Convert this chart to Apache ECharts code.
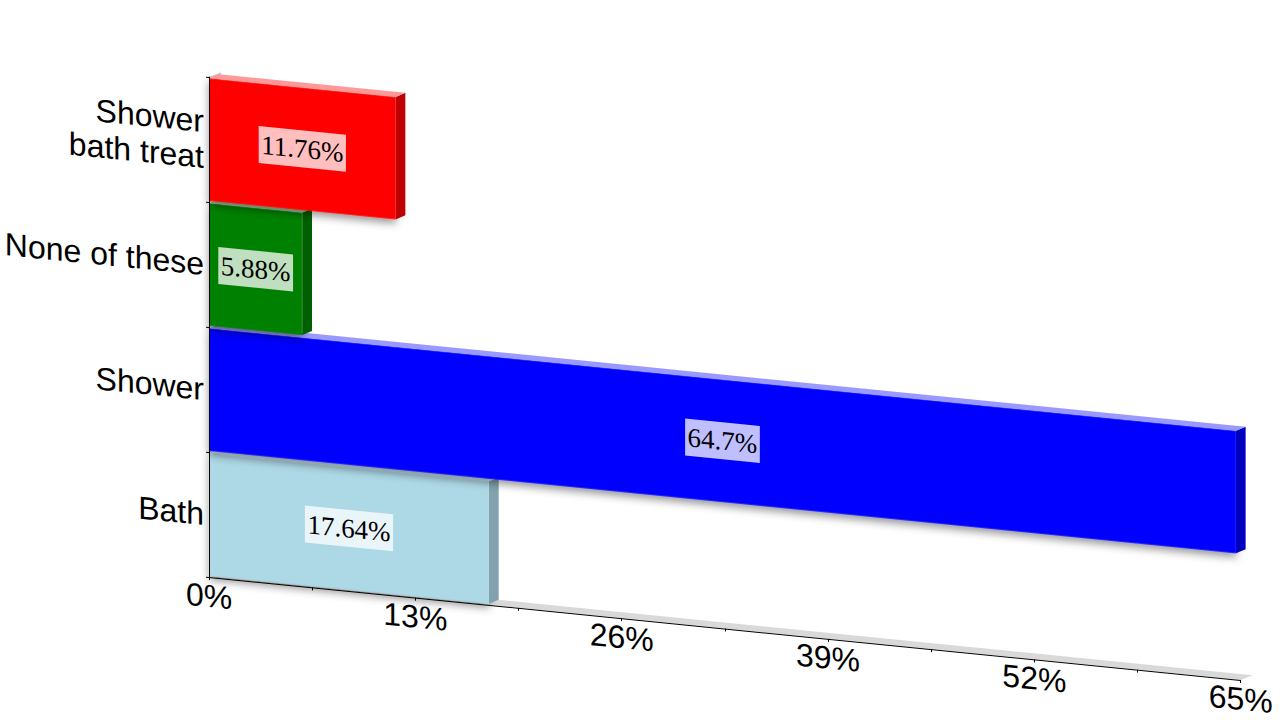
<!DOCTYPE html>
<html>
<head>
<meta charset="utf-8">
<style>
html,body{margin:0;padding:0;background:#fff;overflow:hidden;width:1280px;height:720px}
#c{position:absolute;left:0;top:0;width:1280px;height:720px;transform-origin:209px 577px;transform:matrix(1,0.0998,0,1,0,0)}
</style>
<script src="https://cdn.jsdelivr.net/npm/echarts@6/dist/echarts.min.js"></script>
</head>
<body>
<div id="c"></div>
<script>
const categories = ['Bath', 'Shower', 'None of these', 'Shower\nbath treat'];
const values = [17.64, 64.7, 5.88, 11.76];
const frontColors = ['#add8e6', '#0000ff', '#008000', '#ff0000'];
const sideColors = ['#82a2ad', '#0000bf', '#006000', '#bf0000'];
const topColors = ['#cee8f0', '#9999ff', '#99cc99', '#ff9999'];
const axisMax = 65;

const chart = echarts.init(document.getElementById('c'), null, {renderer: 'svg', width: 1280, height: 720});
const depthX = 9.7, depthY = -5;
const poly = (pts, fill, extra) => ({type: 'polygon', shape: {points: pts}, style: Object.assign({fill: fill}, extra || {})});

function renderBack(params, api) {
  const a = api.coord([0, 0]), b = api.coord([axisMax, 0]);
  const band = api.size([0, 1])[1];
  const x0 = a[0], x1 = b[0], yb = a[1] + band / 2, yt = yb - band * categories.length;
  const dx = 12, dy = -6;
  return {type: 'group', children: [
    poly([[x0, yb], [x1, yb], [x1 + dx, yb + dy], [x0 + dx, yb + dy]], '#d9d9d9'),
    poly([[x0, yb], [x0, yt], [x0 + dx, yt + dy], [x0 + dx, yb + dy]], '#c8c8c8')
  ]};
}

function renderBar(params, api) {
  const i = api.value(1), v = api.value(0);
  const p0 = api.coord([0, i]), p1 = api.coord([v, i]);
  const h = api.size([0, 1])[1] * 0.98;
  const x0 = p0[0], x1 = p1[0], yt = p0[1] - h / 2, yb = p0[1] + h / 2;
  const shadow = {shadowBlur: 8, shadowOffsetY: 4, shadowOffsetX: 0, shadowColor: 'rgba(0,0,0,0.42)'};
  return {type: 'group', children: [
    {type: 'rect', shape: {x: x0, y: yt, width: x1 - x0, height: yb - yt}, style: Object.assign({fill: frontColors[i]}, shadow)},
    poly([[x1, yt], [x1 + depthX, yt + depthY], [x1 + depthX, yb + depthY], [x1, yb]], sideColors[i]),
    poly([[x0, yt], [x1, yt], [x1 + depthX, yt + depthY], [x0 + depthX, yt + depthY]], topColors[i]),
    {type: 'text', x: (x0 + x1) / 2, y: p0[1], style: {
      text: v + '%', fill: '#000', font: '27px "Liberation Serif"', align: 'center', verticalAlign: 'middle',
      backgroundColor: 'rgba(255,255,255,0.75)', padding: [4, 2.5, 4, 2.5], lineHeight: 29
    }}
  ]};
}

chart.setOption({
  animation: false,
  backgroundColor: '#fff',
  grid: {left: 209, top: 77, width: 1031.7, height: 500, containLabel: false},
  xAxis: {
    type: 'value', min: 0, max: axisMax, interval: 13, z: 5,
    axisLine: {show: true, lineStyle: {color: '#000', width: 1}},
    axisTick: {show: true, length: 3, lineStyle: {color: '#000', width: 1}},
    minorTick: {show: true, splitNumber: 2, length: 3, lineStyle: {color: '#000', width: 1}},
    splitLine: {show: false}, minorSplitLine: {show: false},
    axisLabel: {formatter: '{value}%', color: '#000', fontFamily: 'Liberation Sans', fontSize: 32, margin: 3, hideOverlap: false, showMinLabel: true, showMaxLabel: true}
  },
  yAxis: {
    type: 'category', data: categories, z: 5,
    axisLine: {show: true, lineStyle: {color: '#000', width: 1}},
    axisTick: {show: true, length: 3, alignWithLabel: false, lineStyle: {color: '#000', width: 1}},
    splitLine: {show: false},
    axisLabel: {color: '#000', fontFamily: 'Liberation Sans', fontSize: 32, lineHeight: 36, margin: 5, interval: 0}
  },
  series: [
    {type: 'custom', coordinateSystem: 'cartesian2d', clip: false, z: 1, silent: true, renderItem: renderBack, data: [[0, 0]], encode: {x: 0, y: 1}},
    {type: 'custom', coordinateSystem: 'cartesian2d', clip: false, z: 2, silent: true, renderItem: renderBar, data: values.map((v, i) => [v, i]), encode: {x: 0, y: 1}}
  ]
});
</script>
</body>
</html>
